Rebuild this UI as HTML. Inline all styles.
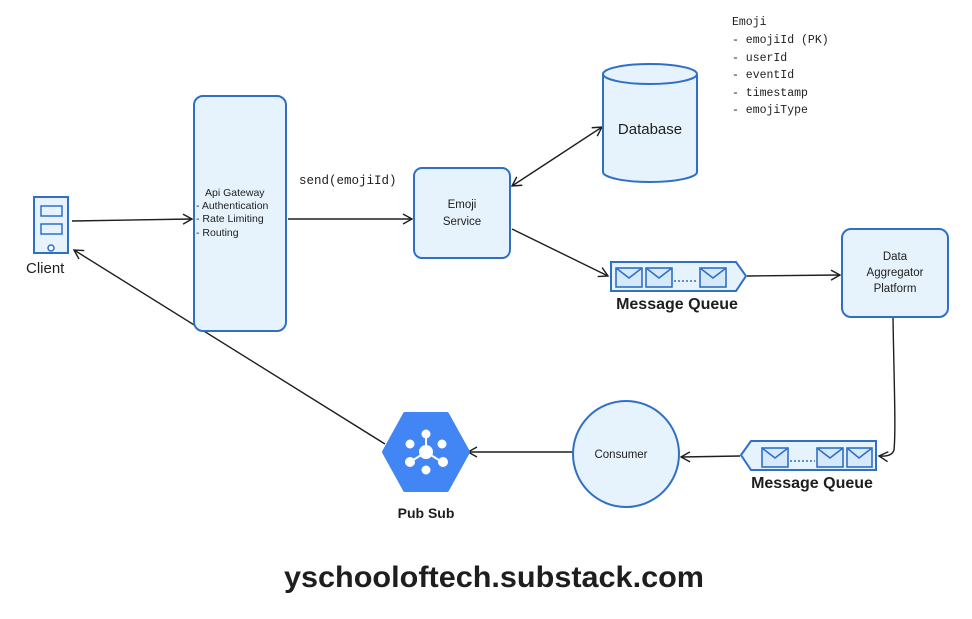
<!DOCTYPE html>
<html><head><meta charset="utf-8"><style>
body{margin:0;background:#fff;width:972px;height:619px;overflow:hidden}
svg{display:block}
text{font-family:"Liberation Sans",sans-serif;fill:#1e1e1e}
.m{font-family:"Liberation Mono",monospace}
</style></head><body>
<svg width="972" height="619" viewBox="0 0 972 619" xmlns="http://www.w3.org/2000/svg">
<defs>
<marker id="a" markerWidth="12" markerHeight="12" refX="10" refY="6" orient="auto" markerUnits="userSpaceOnUse">
<path d="M1,1 L10,6 L1,11" fill="none" stroke="#1e1e1e" stroke-width="1.4"/></marker>
<marker id="as" markerWidth="12" markerHeight="12" refX="2" refY="6" orient="auto" markerUnits="userSpaceOnUse">
<path d="M11,1 L2,6 L11,11" fill="none" stroke="#1e1e1e" stroke-width="1.4"/></marker>
</defs>
<g stroke="#1e1e1e" stroke-width="1.4" fill="none">
<line x1="72" y1="221" x2="192" y2="219" marker-end="url(#a)"/>
<line x1="288" y1="219" x2="412" y2="219" marker-end="url(#a)"/>
<line x1="512" y1="186" x2="602" y2="127" marker-start="url(#as)" marker-end="url(#a)"/>
<line x1="512" y1="229" x2="608" y2="276" marker-end="url(#a)"/>
<line x1="747" y1="276" x2="840" y2="275" marker-end="url(#a)"/>
<path d="M893,318 C894,380 896,430 894,450 Q892,457 879,456" marker-end="url(#a)"/>
<line x1="740" y1="456" x2="681" y2="457" marker-end="url(#a)"/>
<line x1="572" y1="452" x2="468" y2="452" marker-end="url(#a)"/>
<line x1="385" y1="444" x2="74" y2="250" marker-end="url(#a)"/>
</g>
<!-- client -->
<rect x="34" y="197" width="34" height="56" fill="#e7f3fc" stroke="#2f6fc6" stroke-width="2"/>
<rect x="41" y="206" width="21" height="10" fill="#e7f3fc" stroke="#2f6fc6" stroke-width="1.5"/>
<rect x="41" y="224" width="21" height="10" fill="#e7f3fc" stroke="#2f6fc6" stroke-width="1.5"/>
<circle cx="51" cy="248" r="3" fill="#fff" stroke="#2f6fc6" stroke-width="1.5"/>
<text x="26" y="273" font-size="15">Client</text>
<!-- api gateway -->
<rect x="194" y="96" width="92" height="235" rx="9" fill="#e7f3fc" stroke="#2f6fc6" stroke-width="2"/>
<g font-size="10.5"><text x="205" y="196">Api Gateway</text><text x="196" y="209">- Authentication</text><text x="196" y="222">- Rate Limiting</text><text x="196" y="236">- Routing</text></g>
<text x="299" y="184" font-size="12.5" class="m">send(emojiId)</text>
<!-- emoji service -->
<rect x="414" y="168" width="96" height="90" rx="8" fill="#e7f3fc" stroke="#2f6fc6" stroke-width="2"/>
<text x="462" y="208" font-size="11.5" text-anchor="middle">Emoji</text>
<text x="462" y="225" font-size="11.5" text-anchor="middle">Service</text>
<!-- database -->
<path d="M603,74 L603,172 A47,10 0 0 0 697,172 L697,74" fill="#e7f3fc" stroke="#2f6fc6" stroke-width="2"/>
<ellipse cx="650" cy="74" rx="47" ry="10" fill="#e7f3fc" stroke="#2f6fc6" stroke-width="2"/>
<text x="650" y="134" font-size="15" text-anchor="middle">Database</text>
<g class="m" font-size="11.5"><text x="732" y="25" class="m">Emoji</text><text x="732" y="43" class="m">- emojiId (PK)</text><text x="732" y="61" class="m">- userId</text><text x="732" y="78" class="m">- eventId</text><text x="732" y="96" class="m">- timestamp</text><text x="732" y="113" class="m">- emojiType</text></g>
<!-- MQ1 -->
<path d="M611,262 L736,262 L746,276 L736,291 L611,291 Z" fill="#e7f3fc" stroke="#2f6fc6" stroke-width="2"/>
<g fill="#d5e9fa" stroke="#2f6fc6" stroke-width="1.6">
<rect x="616" y="268" width="26" height="19"/><path d="M616,268 L629,278 L642,268" fill="none"/>
<rect x="646" y="268" width="26" height="19"/><path d="M646,268 L659,278 L672,268" fill="none"/>
<rect x="700" y="268" width="26" height="19"/><path d="M700,268 L713,278 L726,268" fill="none"/>
<line x1="674" y1="281" x2="698" y2="281" stroke-dasharray="2,2"/></g>
<text x="677" y="309" font-size="16" text-anchor="middle" font-weight="bold">Message Queue</text>
<!-- aggregator -->
<rect x="842" y="229" width="106" height="88" rx="9" fill="#e7f3fc" stroke="#2f6fc6" stroke-width="2"/>
<g font-size="11.5" text-anchor="middle"><text x="895" y="260">Data</text><text x="895" y="276">Aggregator</text><text x="895" y="292">Platform</text></g>
<!-- MQ2 -->
<path d="M876,441 L751,441 L741,455 L751,470 L876,470 Z" fill="#e7f3fc" stroke="#2f6fc6" stroke-width="2"/>
<g fill="#d5e9fa" stroke="#2f6fc6" stroke-width="1.6">
<rect x="762" y="448" width="26" height="19"/><path d="M762,448 L775,458 L788,448" fill="none"/>
<rect x="817" y="448" width="26" height="19"/><path d="M817,448 L830,458 L843,448" fill="none"/>
<rect x="847" y="448" width="25" height="19"/><path d="M847,448 L859,458 L872,448" fill="none"/>
<line x1="790" y1="461" x2="815" y2="461" stroke-dasharray="2,2"/></g>
<text x="812" y="488" font-size="16" text-anchor="middle" font-weight="bold">Message Queue</text>
<!-- consumer -->
<circle cx="626" cy="454" r="53" fill="#e7f3fc" stroke="#2f6fc6" stroke-width="2"/>
<text x="621" y="458" font-size="11.5" text-anchor="middle">Consumer</text>
<!-- pubsub -->
<path d="M405,414 L447,414 L468,452 L447,490 L405,490 L384,452 Z" fill="#4285f4" stroke="#4285f4" stroke-width="4" stroke-linejoin="round"/>
<g fill="#fff" stroke="#fff" stroke-width="2">
<line x1="426" y1="452" x2="426" y2="434"/><line x1="426" y1="452" x2="442" y2="462"/><line x1="426" y1="452" x2="410" y2="462"/>
<circle cx="426" cy="452" r="6"/><circle cx="426" cy="434" r="3.5"/><circle cx="443" cy="462" r="4"/><circle cx="410" cy="462" r="4"/>
<circle cx="410" cy="444" r="3.5"/><circle cx="442" cy="444" r="3.5"/><circle cx="426" cy="470" r="3.5"/></g>
<text x="426" y="518" font-size="14" text-anchor="middle" font-weight="bold">Pub Sub</text>
<text x="494" y="587" font-size="30" text-anchor="middle" font-weight="bold" textLength="420" lengthAdjust="spacingAndGlyphs">yschooloftech.substack.com</text>
</svg>
</body></html>
